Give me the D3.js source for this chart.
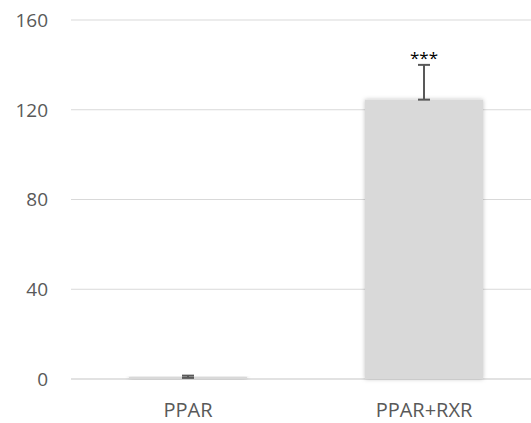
<!DOCTYPE html>
<html>
<head>
<meta charset="utf-8">
<script src="https://cdn.jsdelivr.net/npm/d3@7"></script>
<style>
  body { margin: 0; background: #fff; }
  text { font-family: "Open Sans", sans-serif; }
</style>
</head>
<body>
<div id="chart"></div>
<script>
// Data
var categories = ["PPAR", "PPAR+RXR"];
var values = [1, 124.5];
var errors = [0.5, 15.5];
var marks = ["", "***"];
var yTicks = [0, 40, 80, 120, 160];

var width = 531, height = 423;

var x = d3.scaleBand()
    .domain(categories)
    .range([70, 542])
    .paddingInner(0.5)
    .paddingOuter(0.25);

var y = d3.scaleLinear()
    .domain([0, 160])
    .range([379, 20]);

var svg = d3.select("#chart").append("svg")
    .attr("width", width)
    .attr("height", height);

// soft shadow like the office chart
var f = svg.append("defs").append("filter")
    .attr("id", "shadow")
    .attr("x", "-10%").attr("y", "-10%")
    .attr("width", "120%").attr("height", "120%");
f.append("feDropShadow")
    .attr("dx", 0).attr("dy", 0)
    .attr("stdDeviation", 2)
    .attr("flood-color", "#000")
    .attr("flood-opacity", 0.25);

// Gridlines
svg.append("g").selectAll("line")
    .data(yTicks)
  .enter().append("line")
    .attr("x1", 71)
    .attr("x2", width)
    .attr("y1", function(d) { return y(d); })
    .attr("y2", function(d) { return y(d); })
    .attr("stroke", "#d9d9d9")
    .attr("stroke-width", function(d) { return d === 0 ? 1.5 : 1; });

// Y tick labels
svg.append("g").selectAll("text")
    .data(yTicks)
  .enter().append("text")
    .attr("x", 48)
    .attr("y", function(d) { return y(d); })
    .attr("dy", "0.36em")
    .attr("text-anchor", "end")
    .attr("fill", "#595959")
    .style("font-size", "19px")
    .text(function(d) { return d; });

// Bars
svg.append("g").selectAll("rect")
    .data(values)
  .enter().append("rect")
    .attr("x", function(d, i) { return x(categories[i]); })
    .attr("width", x.bandwidth())
    .attr("y", function(d) { return y(d); })
    .attr("height", function(d) { return y(0) - y(d); })
    .attr("fill", "#d9d9d9")
    .attr("filter", "url(#shadow)");

// Error bars (plus direction)
var eb = svg.append("g").attr("stroke", "#595959").attr("stroke-width", 2);
values.forEach(function(v, i) {
  var cx = x(categories[i]) + x.bandwidth() / 2;
  var lo = i === 0 ? y(v - errors[i]) : y(v);
  var hi = y(v + errors[i]);
  eb.append("line").attr("x1", cx).attr("x2", cx).attr("y1", lo).attr("y2", hi);
  eb.append("line").attr("x1", cx - 6).attr("x2", cx + 6).attr("y1", hi).attr("y2", hi);
  eb.append("line").attr("x1", cx - 6).attr("x2", cx + 6).attr("y1", lo).attr("y2", lo);
});

// Significance marks
svg.append("g").selectAll("text")
    .data(marks)
  .enter().append("text")
    .attr("x", function(d, i) { return x(categories[i]) + x.bandwidth() / 2; })
    .attr("y", function(d, i) { return y(values[i] + errors[i]) - 1; })
    .attr("text-anchor", "middle")
    .attr("fill", "#000")
    .style("font-size", "17px")
    .text(function(d) { return d; });

// Category labels
svg.append("g").selectAll("text")
    .data(categories)
  .enter().append("text")
    .attr("x", function(d) { return x(d) + x.bandwidth() / 2; })
    .attr("y", 410)
    .attr("dy", "0.36em")
    .attr("text-anchor", "middle")
    .attr("fill", "#595959")
    .style("font-size", "20px")
    .text(function(d) { return d; });
</script>
</body>
</html>
